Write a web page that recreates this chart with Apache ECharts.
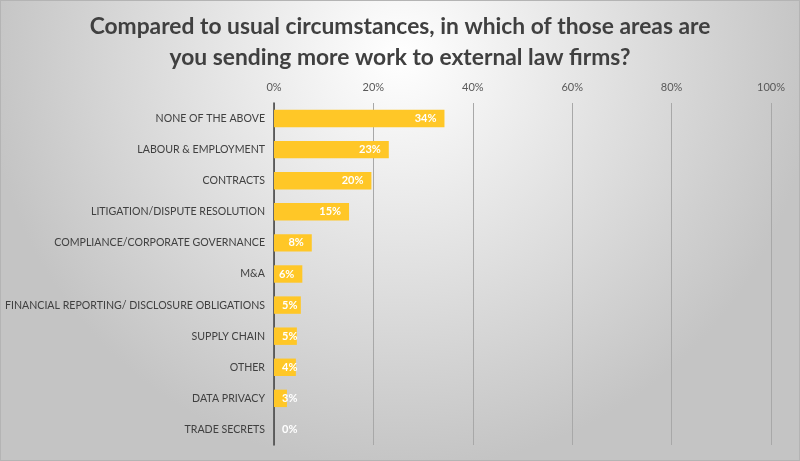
<!DOCTYPE html>
<html>
<head>
<meta charset="utf-8">
<script src="https://cdn.jsdelivr.net/npm/echarts@6/dist/echarts.min.js"></script>
<style>
html,body{margin:0;padding:0;}
#chart{width:800px;height:461px;}
#frame{position:absolute;left:0;top:0;width:800px;height:461px;box-sizing:border-box;border:1px solid #b4b4b4;pointer-events:none;}
</style>
</head>
<body>
<div id="chart"></div>
<div id="frame"></div>
<script>
const titleText = 'Compared to usual circumstances, in which of those areas are\nyou sending more work to external law firms?';
const categories = [
  'NONE OF THE ABOVE',
  'LABOUR & EMPLOYMENT',
  'CONTRACTS',
  'LITIGATION/DISPUTE RESOLUTION',
  'COMPLIANCE/CORPORATE GOVERNANCE',
  'M&A',
  'FINANCIAL REPORTING/ DISCLOSURE OBLIGATIONS',
  'SUPPLY CHAIN',
  'OTHER',
  'DATA PRIVACY',
  'TRADE SECRETS'
];
const values = [34.3, 23.1, 19.6, 15.1, 7.6, 5.7, 5.4, 4.6, 4.4, 2.6, 0];
const tickMin = 0, tickMax = 100, tickStep = 20;

const FONT = 'Lato, "Open Sans", sans-serif';
const chart = echarts.init(document.getElementById('chart'));
const data = values.map(v => ({
  value: v,
  label: { position: v > 5.5 ? 'insideRight' : 'insideLeft' }
}));
chart.setOption({
  backgroundColor: {
    type: 'radial', x: 0.5, y: 0.12, r: 0.9,
    colorStops: [{offset: 0, color: '#ffffff'}, {offset: 1, color: '#c4c4c4'}]
  },
  title: {
    text: titleText,
    left: 'center', top: 6,
    textStyle: { fontFamily: FONT, fontSize: 22.8, fontWeight: 'bold', color: '#404040', lineHeight: 31 }
  },
  grid: { left: 274, right: 29, top: 103, bottom: 16, containLabel: false, outerBoundsMode: 'none' },
  xAxis: {
    type: 'value', position: 'top', min: tickMin, max: tickMax, interval: tickStep,
    axisLine: { show: false }, axisTick: { show: false },
    axisLabel: { formatter: '{value}%', color: '#595959', fontFamily: FONT, fontSize: 11, margin: 10 },
    splitLine: { lineStyle: { color: '#a8a8a8', width: 1 } }
  },
  yAxis: {
    type: 'category', data: categories, inverse: true,
    axisLine: { show: true, lineStyle: { color: '#404040', width: 1.5 } },
    axisTick: { show: false },
    axisLabel: { color: '#404040', fontFamily: FONT, fontSize: 10.6, margin: 9 }
  },
  series: [{
    type: 'bar', data: data, barCategoryGap: '44%',
    itemStyle: { color: '#FFC727' },
    label: {
      show: true, color: '#ffffff', fontFamily: FONT, fontSize: 11, fontWeight: 'bold', distance: 8,
      formatter: p => Math.round(p.value) + '%'
    },
    silent: true
  }],
  animation: false
});
</script>
</body>
</html>
